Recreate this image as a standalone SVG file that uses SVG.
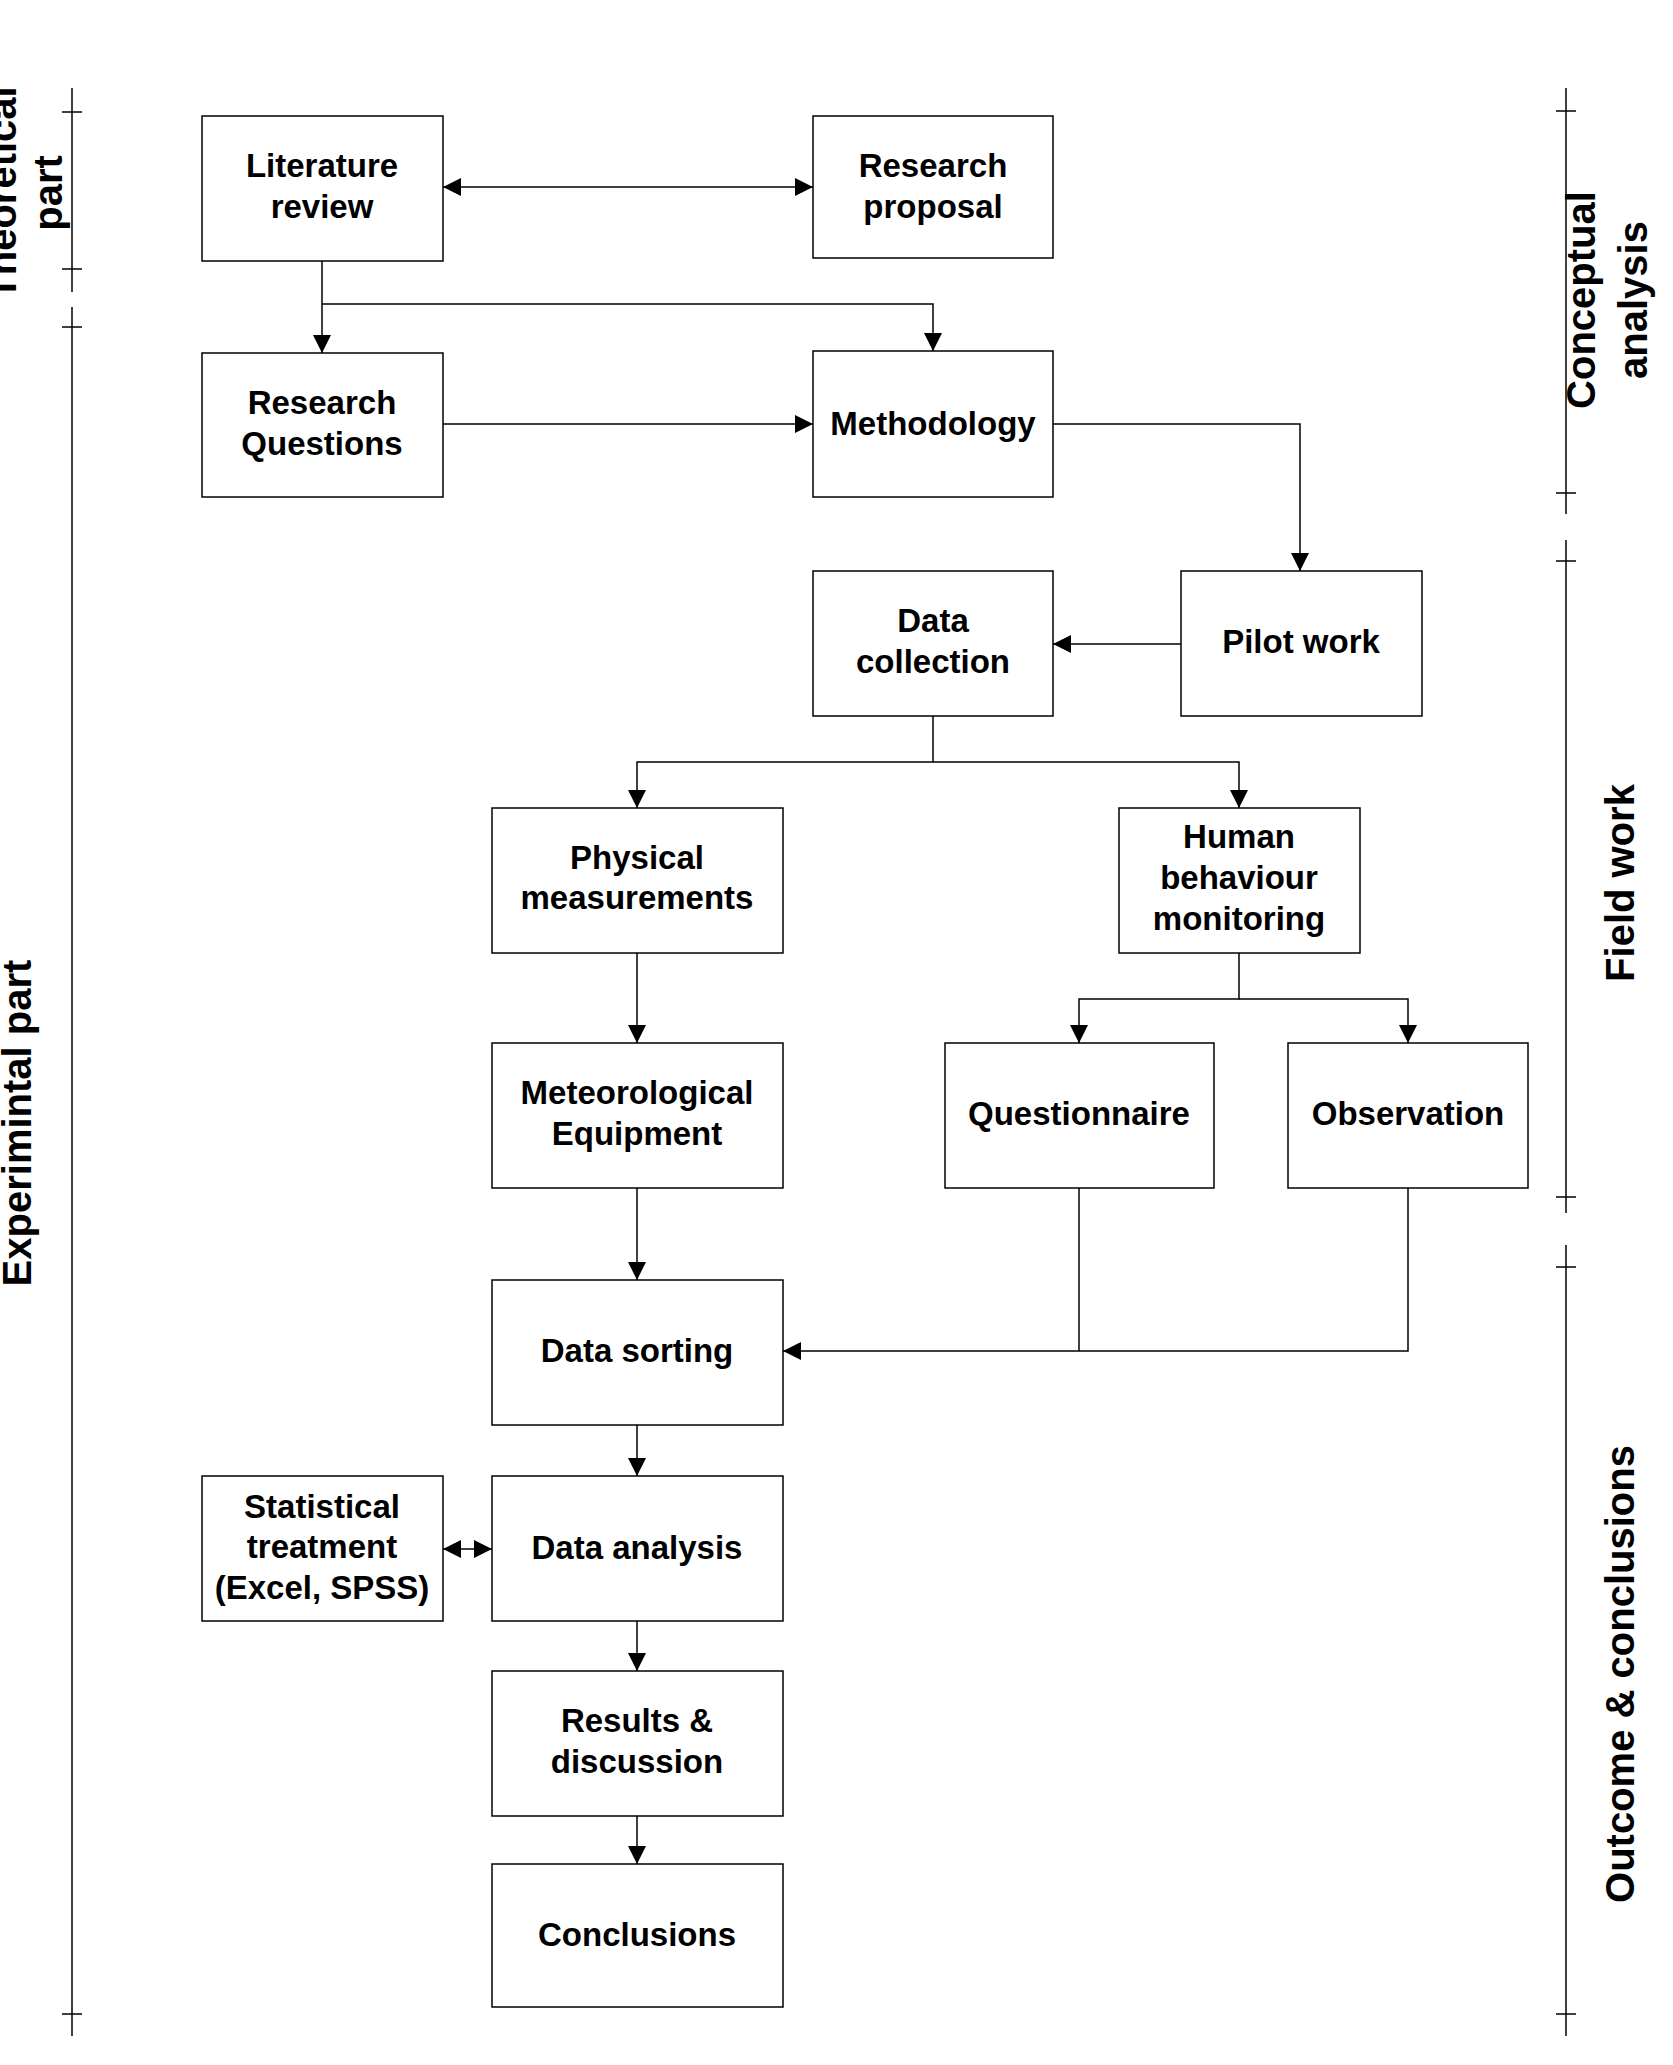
<svg xmlns="http://www.w3.org/2000/svg" width="1673" height="2065" viewBox="0 0 1673 2065">
<style>
.b rect{fill:#fff;stroke:#000;stroke-width:1.5}
text{font-family:"Liberation Sans",Arial,sans-serif;font-weight:bold;fill:#000}
.b text{font-size:33px;text-anchor:middle}
.side{font-size:40px;text-anchor:middle}
.c path,.c line{fill:none;stroke:#000;stroke-width:1.5}
.bar line{stroke:#000;stroke-width:1.5}
</style>
<defs>
<marker id="a" viewBox="0 0 10 10" refX="10" refY="5" markerWidth="18" markerHeight="18" markerUnits="userSpaceOnUse" orient="auto-start-reverse"><path d="M0,0L10,5L0,10z" fill="#000"/></marker>
</defs>
<rect width="1673" height="2065" fill="#fff"/>
<g class="bar">
<line x1="72" y1="88" x2="72" y2="292"/><line x1="62" y1="112" x2="82" y2="112"/><line x1="62" y1="269" x2="82" y2="269"/>
<line x1="72" y1="307" x2="72" y2="2036"/><line x1="62" y1="327" x2="82" y2="327"/><line x1="62" y1="2014" x2="82" y2="2014"/>
<line x1="1566" y1="88" x2="1566" y2="514"/><line x1="1556" y1="111" x2="1576" y2="111"/><line x1="1556" y1="493" x2="1576" y2="493"/>
<line x1="1566" y1="540" x2="1566" y2="1213"/><line x1="1556" y1="561" x2="1576" y2="561"/><line x1="1556" y1="1197" x2="1576" y2="1197"/>
<line x1="1566" y1="1245" x2="1566" y2="2036"/><line x1="1556" y1="1267" x2="1576" y2="1267"/><line x1="1556" y1="2014" x2="1576" y2="2014"/>
</g>
<g id="labels">
<text class="side" transform="translate(0,193) rotate(-90)"><tspan x="0" y="16">Theoretical</tspan><tspan x="0" y="62">part</tspan></text>
<text class="side" transform="translate(0,1123) rotate(-90)" x="0" y="31">Experimintal part</text>
<text class="side" transform="translate(0,300) rotate(-90)"><tspan x="0" y="1595">Conceptual</tspan><tspan x="0" y="1647">analysis</tspan></text>
<text class="side" transform="translate(0,883) rotate(-90)" x="0" y="1634">Field work</text>
<text class="side" transform="translate(0,1674) rotate(-90)" x="0" y="1634">Outcome &amp; conclusions</text>
</g>
<g class="c">
<line x1="443" y1="187" x2="813" y2="187" marker-start="url(#a)" marker-end="url(#a)"/>
<path d="M322,261V353" marker-end="url(#a)"/>
<path d="M322,304H933V351" marker-end="url(#a)"/>
<path d="M443,424H813" marker-end="url(#a)"/>
<path d="M1053,424H1300V571" marker-end="url(#a)"/>
<path d="M1181,644H1053" marker-end="url(#a)"/>
<path d="M933,716V762H637V808" marker-end="url(#a)"/>
<path d="M933,762H1239V808" marker-end="url(#a)"/>
<path d="M637,953V1043" marker-end="url(#a)"/>
<path d="M1239,953V999H1079V1043" marker-end="url(#a)"/>
<path d="M1239,999H1408V1043" marker-end="url(#a)"/>
<path d="M637,1188V1280" marker-end="url(#a)"/>
<path d="M1079,1188V1351"/>
<path d="M1408,1188V1351H783" marker-end="url(#a)"/>
<path d="M637,1425V1476" marker-end="url(#a)"/>
<line x1="443" y1="1549" x2="492" y2="1549" marker-start="url(#a)" marker-end="url(#a)"/>
<path d="M637,1621V1671" marker-end="url(#a)"/>
<path d="M637,1816V1864" marker-end="url(#a)"/>
</g>
<g id="lit" class="b"><rect x="202" y="116" width="241" height="145"/><text x="322" y="177">Literature</text><text x="322" y="218">review</text></g>
<g id="prop" class="b"><rect x="813" y="116" width="240" height="142"/><text x="933" y="177">Research</text><text x="933" y="218">proposal</text></g>
<g id="rq" class="b"><rect x="202" y="353" width="241" height="144"/><text x="322" y="414">Research</text><text x="322" y="455">Questions</text></g>
<g id="meth" class="b"><rect x="813" y="351" width="240" height="146"/><text x="933" y="435">Methodology</text></g>
<g id="dc" class="b"><rect x="813" y="571" width="240" height="145"/><text x="933" y="632">Data</text><text x="933" y="673">collection</text></g>
<g id="pilot" class="b"><rect x="1181" y="571" width="241" height="145"/><text x="1301" y="653">Pilot work</text></g>
<g id="phys" class="b"><rect x="492" y="808" width="291" height="145"/><text x="637" y="869">Physical</text><text x="637" y="909">measurements</text></g>
<g id="human" class="b"><rect x="1119" y="808" width="241" height="145"/><text x="1239" y="848">Human</text><text x="1239" y="889">behaviour</text><text x="1239" y="930">monitoring</text></g>
<g id="met" class="b"><rect x="492" y="1043" width="291" height="145"/><text x="637" y="1104">Meteorological</text><text x="637" y="1145">Equipment</text></g>
<g id="quest" class="b"><rect x="945" y="1043" width="269" height="145"/><text x="1079" y="1125">Questionnaire</text></g>
<g id="obs" class="b"><rect x="1288" y="1043" width="240" height="145"/><text x="1408" y="1125">Observation</text></g>
<g id="sort" class="b"><rect x="492" y="1280" width="291" height="145"/><text x="637" y="1362">Data sorting</text></g>
<g id="stat" class="b"><rect x="202" y="1476" width="241" height="145"/><text x="322" y="1518">Statistical</text><text x="322" y="1558">treatment</text><text x="322" y="1599">(Excel, SPSS)</text></g>
<g id="anal" class="b"><rect x="492" y="1476" width="291" height="145"/><text x="637" y="1559">Data analysis</text></g>
<g id="res" class="b"><rect x="492" y="1671" width="291" height="145"/><text x="637" y="1732">Results &amp;</text><text x="637" y="1773">discussion</text></g>
<g id="conc" class="b"><rect x="492" y="1864" width="291" height="143"/><text x="637" y="1946">Conclusions</text></g>
</svg>
